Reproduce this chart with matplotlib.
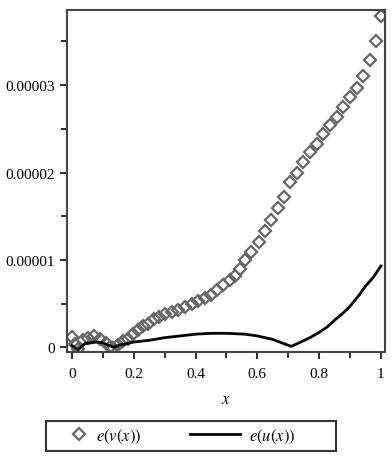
import numpy as np
import matplotlib
matplotlib.use('Agg')
import matplotlib.pyplot as plt
from matplotlib.ticker import MultipleLocator, FixedLocator
from matplotlib.legend_handler import HandlerLine2D
from matplotlib.patches import Rectangle

# данные (значения y в единицах 1e-5)
xv = [0.0, 0.01, 0.02, 0.037, 0.053, 0.072, 0.09, 0.11, 0.123, 0.134,
      0.15, 0.166, 0.182, 0.198, 0.215, 0.231, 0.247, 0.264, 0.283, 0.30,
      0.323, 0.344, 0.366, 0.387, 0.409, 0.430, 0.45, 0.47, 0.49, 0.51,
      0.527, 0.545, 0.561, 0.581, 0.605, 0.625, 0.644, 0.668, 0.687, 0.705,
      0.727, 0.749, 0.770, 0.792, 0.813, 0.835, 0.857, 0.878, 0.900, 0.921,
      0.943, 0.964, 0.984, 1.0]
ev = [0.12, 0.04, -0.02, 0.08, 0.11, 0.13, 0.10, 0.05, 0.0, -0.01,
      0.03, 0.07, 0.10, 0.15, 0.20, 0.24, 0.27, 0.32, 0.35, 0.38,
      0.40, 0.43, 0.46, 0.50, 0.53, 0.56, 0.60, 0.66, 0.71, 0.77,
      0.82, 0.90, 1.00, 1.09, 1.21, 1.33, 1.46, 1.59, 1.72, 1.89,
      2.00, 2.12, 2.23, 2.33, 2.44, 2.54, 2.64, 2.75, 2.86, 2.97,
      3.10, 3.29, 3.50, 3.79]

xu = [0.0, 0.02, 0.04, 0.06, 0.08, 0.1, 0.12, 0.135, 0.15, 0.2,
      0.25, 0.3, 0.35, 0.4, 0.45, 0.5, 0.56, 0.6, 0.65, 0.68,
      0.71, 0.74, 0.77, 0.8, 0.825, 0.85, 0.88, 0.9, 0.93, 0.95,
      0.975, 1.0]
eu = [0.02, -0.03, 0.04, 0.05, 0.06, 0.05, 0.02, 0.0, 0.02, 0.06,
      0.08, 0.11, 0.13, 0.15, 0.16, 0.16, 0.15, 0.13, 0.09, 0.05,
      0.01, 0.06, 0.11, 0.17, 0.23, 0.31, 0.40, 0.47, 0.60, 0.70,
      0.80, 0.93]

xticks = [0, 0.2, 0.4, 0.6, 0.8, 1]
xtick_labels = ['0', '0.2', '0.4', '0.6', '0.8', '1']
yticks = [0, 1e-5, 2e-5, 3e-5]
ytick_labels = ['0', '0.00001', '0.00002', '0.00003']


# короткий маркер в легенде (как в Maple)
class ShortHandler(HandlerLine2D):
    def legend_artist(self, legend, orig_handle, fontsize, handlebox):
        handlebox.width = handlebox.width * 0.3
        return super().legend_artist(legend, orig_handle, fontsize, handlebox)


plt.rcParams['font.family'] = ['Liberation Serif', 'DejaVu Serif']
plt.rcParams['mathtext.fontset'] = 'stix'

fig = plt.figure(figsize=(3.92, 4.60), dpi=100)
ax = fig.add_axes([0.171, 0.2326, 0.811, 0.7434])

lv, = ax.plot(xv, np.array(ev) * 1e-5, linestyle='none', marker='D', markersize=6,
              markerfacecolor='none', markeredgecolor='#666666', markeredgewidth=1.6,
              label=r'$e(v(x))$')
lu, = ax.plot(xu, np.array(eu) * 1e-5, color='black', linewidth=2, label=r'$e(u(x))$')

ax.set_xlim(-0.016, 1.013)
ax.set_ylim(-0.054e-5, 3.86e-5)

ax.xaxis.set_major_locator(FixedLocator(xticks))
ax.set_xticklabels(xtick_labels)
ax.xaxis.set_minor_locator(MultipleLocator(0.1))
ax.yaxis.set_major_locator(FixedLocator(yticks))
ax.set_yticklabels(ytick_labels)
ax.yaxis.set_minor_locator(MultipleLocator(0.5e-5))

ax.tick_params(which='both', direction='out', colors='#333333', labelcolor='black',
               labelsize=11, width=1.5)
ax.tick_params(which='major', length=5)
ax.tick_params(axis='x', which='major', pad=6)
ax.tick_params(which='minor', length=4)
for s in ax.spines.values():
    s.set_color('#444444')
    s.set_linewidth(1.5)

ax.set_xlabel(r'$x$', fontsize=12, labelpad=8)

# рамка легенды
fig.patches.append(Rectangle((45.7 / 392, 1 - 452.3 / 460), 290 / 392, 30 / 460,
                             transform=fig.transFigure, facecolor='white',
                             edgecolor='#333333', linewidth=1.5))

fig.legend(handles=[lv, lu], loc='center left',
           bbox_to_anchor=(71.5 / 392, 1 - 437.3 / 460),
           ncol=2, borderaxespad=0, borderpad=0, frameon=False,
           handlelength=3.0, handletextpad=0.55, columnspacing=2.9,
           fontsize=12, handler_map={lv: ShortHandler(numpoints=1)})

fig.savefig('out.png', dpi=100)
